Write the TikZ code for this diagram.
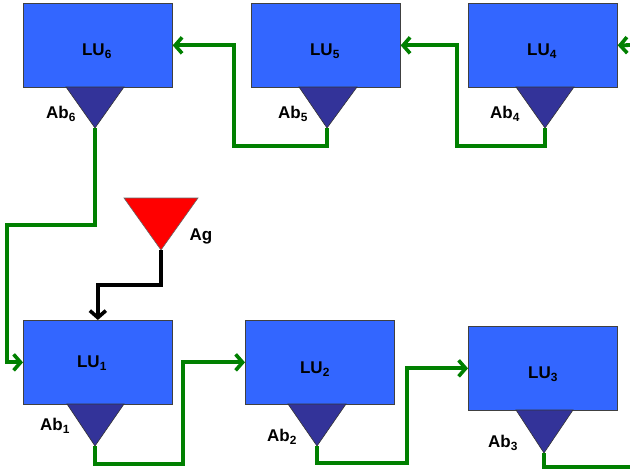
\documentclass[tikz,border=0pt]{standalone}
\usepackage{fontspec}
\setmainfont{Liberation Sans}
\usetikzlibrary{arrows.meta}
\definecolor{boxblue}{RGB}{51,102,255}
\definecolor{abblue}{RGB}{51,51,153}
\definecolor{lgreen}{RGB}{0,128,0}
\begin{document}
\begin{tikzpicture}[x=1pt,y=-1pt,
  lu/.style={draw=black!75, fill=boxblue, line width=0.7pt, minimum width=149pt, minimum height=84pt, inner sep=0pt, anchor=north west},
  lbl/.style={font=\fontsize{17}{17}\selectfont\bfseries, inner sep=0pt},
  abtri/.style={draw=black!80, fill=abblue, line width=0.6pt},
  agtri/.style={draw=black!60, fill=red, line width=0.6pt},
  barb/.style={-{Straight Barb[length=7pt,width=16pt,line width=3.6pt]}},
  gline/.style={draw=lgreen, line width=3.8pt, barb},
  gplain/.style={draw=lgreen, line width=3.8pt},
  kline/.style={draw=black, line width=3.6pt, barb}]
\useasboundingbox (0,0) rectangle (630,475);
% boxes
\node[lu] (lu6) at (23,3) {};
\node[lu] (lu5) at (251,3) {};
\node[lu] (lu4) at (468,3) {};
\node[lu] (lu1) at (23,320) {};
\node[lu] (lu2) at (245,320) {};
\node[lu] (lu3) at (468,326) {};
% box labels
\node[lbl] (l6) at (97,51) {LU\textsubscript{6}};
\node[lbl] (l5) at (325,51) {LU\textsubscript{5}};
\node[lbl] (l4) at (542,51) {LU\textsubscript{4}};
\node[lbl] (l1) at (92,363) {LU\textsubscript{1}};
\node[lbl] (l2) at (315,369) {LU\textsubscript{2}};
\node[lbl] (l3) at (543,374) {LU\textsubscript{3}};
% antibody triangles
\filldraw[abtri] (66,87) -- (124,87) -- (95,128) -- cycle; \coordinate (t6) at (95,128);
\filldraw[abtri] (299,87) -- (357,87) -- (327,128) -- cycle; \coordinate (t5) at (327,128);
\filldraw[abtri] (516,87) -- (574,87) -- (545,128) -- cycle; \coordinate (t4) at (545,128);
\filldraw[abtri] (67,404) -- (124,404) -- (95,446) -- cycle; \coordinate (t1) at (95,446);
\filldraw[abtri] (288,404) -- (346,404) -- (317,446) -- cycle; \coordinate (t2) at (317,446);
\filldraw[abtri] (516,410) -- (573,410) -- (544,453) -- cycle; \coordinate (t3) at (544,453);
% antibody labels
\node[lbl] (a6) at (61,114) {Ab\textsubscript{6}};
\node[lbl] (a5) at (293,114) {Ab\textsubscript{5}};
\node[lbl] (a4) at (505,114) {Ab\textsubscript{4}};
\node[lbl] (a1) at (55,426) {Ab\textsubscript{1}};
\node[lbl] (a2) at (282,437) {Ab\textsubscript{2}};
\node[lbl] (a3) at (503,443) {Ab\textsubscript{3}};
% antigen
\filldraw[agtri] (124,198) -- (198,198) -- (161,250) -- cycle; \coordinate (tag) at (161,250);
\node[lbl] (ag) at (201,236) {Ag};
% connectors
\coordinate (in4) at (632,45);
\coordinate (out3) at (632,467);
\draw[gline] (in4) -- (lu4.east);
\draw[gline] (t4) -- (545,146) -- (457,146) |- (lu5.east);
\draw[gline] (t5) -- (327,146) -- (234,146) |- (lu6.east);
\draw[gline] (t6) -- (95,225) -- (7,225) |- (lu1.west);
\draw[gline] (t1) -- (95,464) -- (183,464) |- (lu2.west);
\draw[gline] (t2) -- (317,463) -- (407,463) |- (lu3.west);
\draw[gplain] (t3) -- (544,467) -- (out3);
\draw[kline] (tag) -- (161,285) -| (lu1.north);
\end{tikzpicture}
\end{document}
